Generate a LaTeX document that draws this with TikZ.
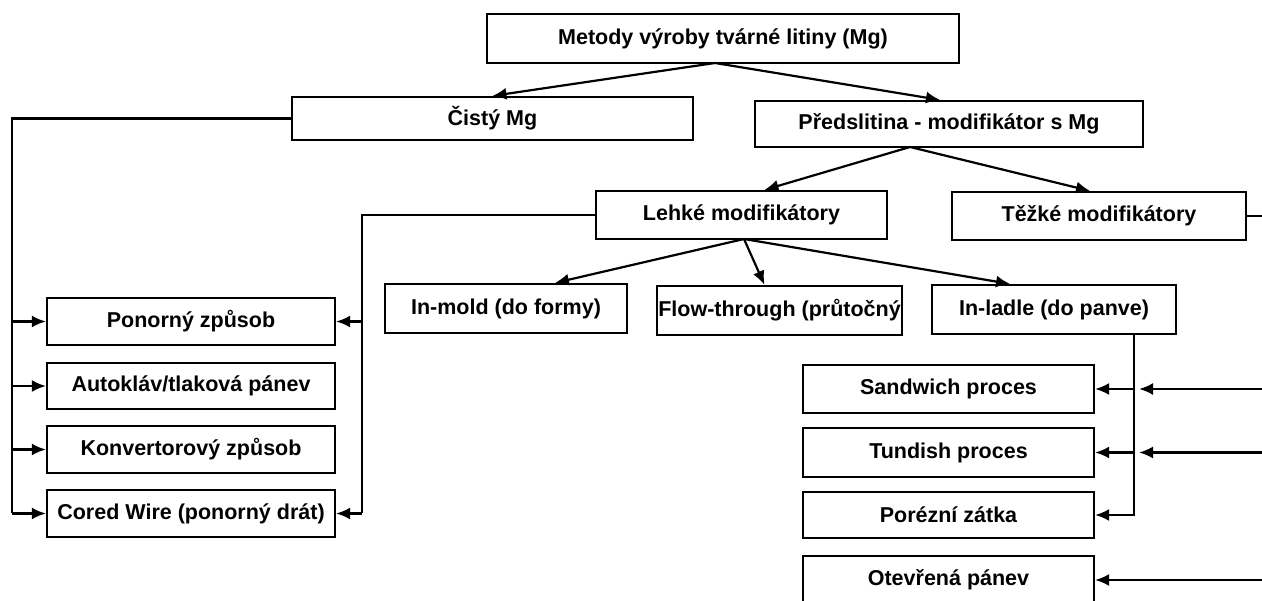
\documentclass[tikz,border=0pt]{standalone}
\usepackage{fontspec}
\setmainfont{Liberation Sans}
\usetikzlibrary{arrows.meta,calc}
\tikzset{
  box/.style={draw, line width=2.2pt, rectangle, inner sep=0pt, align=center, font=\fontsize{21.5}{24}\selectfont\bfseries},
  conn/.style={line width=2.2pt},
  arr/.style={line width=2.2pt, -{Latex[length=14pt,width=12pt]}},
}
\begin{document}
\begin{tikzpicture}[x=1pt,y=-1pt]
\useasboundingbox (0,0) rectangle (1262,601);
\clip (0,0) rectangle (1262,601);
% boxes
\node[box, minimum width=472, minimum height=49] (top) at (723,38.5) {Metody výroby tvárné litiny (Mg)};
\node[box, minimum width=401, minimum height=43] (cisty) at (492.5,118.5) {Čistý Mg};
\node[box, minimum width=388, minimum height=46] (pred) at (949,124) {Předslitina - modifikátor s Mg};
\node[box, minimum width=291, minimum height=48] (lehke) at (741.5,215) {Lehké modifikátory};
\node[box, minimum width=294, minimum height=48] (tezke) at (1099,216) {Těžké modifikátory};
\node[box, minimum width=242, minimum height=49] (inmold) at (506,308.5) {In-mold (do formy)};
\node[box, minimum width=245, minimum height=49] (flow) at (779.5,310.5) {Flow-through (průtočný};
\node[box, minimum width=244, minimum height=49] (inladle) at (1054,309.5) {In-ladle (do panve)};
\node[box, minimum width=288, minimum height=47] (ponorny) at (191,321.5) {Ponorný způsob};
\node[box, minimum width=288, minimum height=46] (autoklav) at (191,386) {Autokláv/tlaková pánev};
\node[box, minimum width=288, minimum height=47] (konv) at (191,449.5) {Konvertorový způsob};
\node[box, minimum width=288, minimum height=47] (cored) at (191,513.5) {Cored Wire (ponorný drát)};
\node[box, minimum width=291, minimum height=48] (sandwich) at (948.5,389) {Sandwich proces};
\node[box, minimum width=291, minimum height=49] (tundish) at (948.5,452.5) {Tundish proces};
\node[box, minimum width=291, minimum height=46] (porezni) at (948.5,515) {Porézní zátka};
\node[box, minimum width=291, minimum height=48] (otevrena) at (948.5,580) {Otevřená pánev};
% helper coordinates
\coordinate (t0) at (715,63);
\coordinate (p0) at (910,147);
\coordinate (l0) at (744,239);
\coordinate (lx) at (12,0);
\coordinate (mx) at (362,0);
\coordinate (rx) at (1134,0);
\coordinate (R) at (1262,0);
% tree arrows
\draw[arr] (t0) -- (cisty.north);
\draw[arr] (t0) -- ([xshift=-9pt]pred.north);
\draw[arr] (p0) -- ([xshift=23pt]lehke.north);
\draw[arr] (p0) -- ([xshift=-9pt]tezke.north);
\draw[arr] (l0) -- ([xshift=49pt]inmold.north);
\draw[arr] (l0) -- ([xshift=-15pt]flow.north);
\draw[arr] (l0) -- ([xshift=-44pt]inladle.north);
% left bus from Cisty Mg
\draw[conn] (cisty.west) -| (lx |- cored.west);
\draw[arr] (lx |- ponorny.west) -- (ponorny.west);
\draw[arr] (lx |- autoklav.west) -- (autoklav.west);
\draw[arr] (lx |- konv.west) -- (konv.west);
\draw[arr] (lx |- cored.west) -- (cored.west);
% bus from Lehke
\draw[conn] (lehke.west) -| (mx |- cored.east);
\draw[arr] (mx |- ponorny.east) -- (ponorny.east);
\draw[arr] (mx |- cored.east) -- (cored.east);
% Tezke to the right edge
\draw[conn] (tezke.east) -- (R |- tezke.east);
% In-ladle bus
\draw[arr] (rx |- inladle.south) |- (porezni.east);
\draw[arr] (rx |- sandwich.east) -- (sandwich.east);
\draw[arr] (rx |- tundish.east) -- (tundish.east);
% from right edge
\draw[arr] (R |- sandwich.east) -- ([xshift=5pt]rx |- sandwich.east);
\draw[arr] (R |- tundish.east) -- ([xshift=5pt]rx |- tundish.east);
\draw[arr] (R |- otevrena.east) -- (otevrena.east);
\end{tikzpicture}
\end{document}
